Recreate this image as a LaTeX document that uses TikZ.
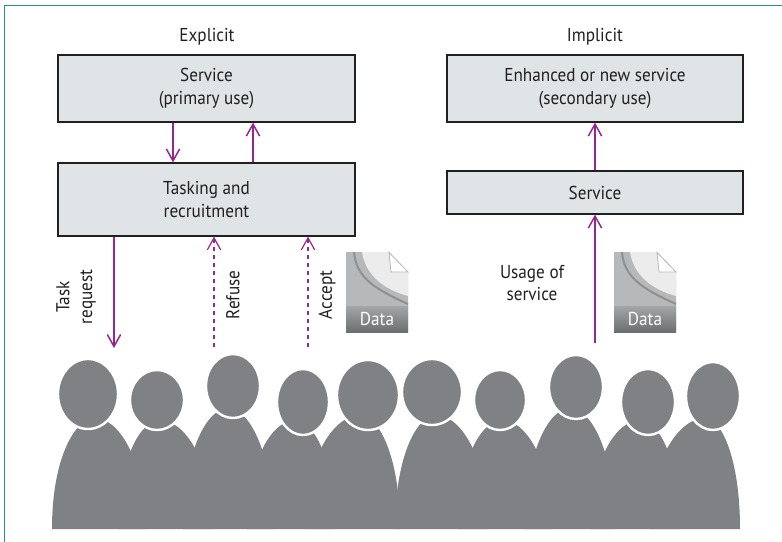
\documentclass[tikz,border=0pt]{standalone}
\usepackage{fontspec}
\setmainfont{PT Sans}[FakeStretch=0.92]
\usetikzlibrary{arrows.meta}

\definecolor{frameteal}{HTML}{2B8E8E}
\definecolor{boxfill}{HTML}{DFE4E6}
\definecolor{plum}{HTML}{93278F}
\definecolor{crowd}{HTML}{808184}
\definecolor{ink}{HTML}{231F20}
\definecolor{docmid}{HTML}{B7B8BA}
\definecolor{doclight}{HTML}{ECECEC}
\definecolor{docline}{HTML}{8F9092}

% one body of the crowd: centre x, left half width, right half width, top y
\newcommand\personbody[4]{%
  \fill[crowd] ({#1-#2},529)
    .. controls ({#1-#2},{#4+0.35*(529-#4)}) and ({#1-0.45*#2},#4) .. (#1,#4)
    .. controls ({#1+0.45*#3},#4) and ({#1+#3},{#4+0.35*(529-#4)}) .. ({#1+#3},529) -- cycle;}
% one head: centre x, centre y, x radius, y radius
\newcommand\personhead[4]{%
  \filldraw[crowd, draw=white, line width=1.8pt] (#1,#2) ellipse [x radius=#3, y radius=#4];}
% data sheet icon with its top left corner at (#1,#2)
\newcommand\datasheet[3]{%
  \begin{scope}[shift={(#1,#2)}]
    \fill[docmid] (0,0) -- (43,0) -- (62,20) -- (62,80) -- (0,80) -- cycle;
    \fill[doclight] (16,0) .. controls (20,25) and (40,38) .. (62,44) -- (62,20) -- (43,0) -- cycle;
    \draw[docline, line width=1.5pt] (8,0) .. controls (10,24) and (26,36) .. (62,52);
    \shade[top color=docmid!90!black, bottom color=crowd!85!black] (0,54) rectangle (62,80);
    \filldraw[fill=white, draw=docmid, line width=0.6pt] (43,0.5) -- (45,20) -- (62,20) -- cycle;
    \node[text=white, font=\fontsize{14}{15}\selectfont, inner sep=0] (#3) at (31,67) {Data};
  \end{scope}}

\tikzset{
  lbl/.style={text=ink, font=\fontsize{14}{17}\selectfont, align=center, inner sep=0},
  panel/.style={draw=ink, line width=0.9pt, fill=boxfill, text=ink,
    font=\fontsize{14}{17}\selectfont, align=center, inner sep=0,
    minimum width=#1},
  flow/.style={draw=plum, line width=1.1pt, -{Straight Barb[length=9pt,width=10pt]}},
  maybe/.style={flow, line width=0.9pt, dash pattern=on 3pt off 3pt},
  edge frame/.style={draw=frameteal, line width=1.2pt}
}

\begin{document}
\begin{tikzpicture}[x=0.75pt, y=-0.75pt]
  \useasboundingbox (0,0) rectangle (782,542);
  \draw[edge frame] (4.5,542) -- (4.5,5.5) -- (782,5.5);

  % column headings
  \node[lbl] (hexp) at (207,37) {Explicit};
  \node[lbl] (himp) at (595,37) {Implicit};

  % boxes
  \node[panel=222.75pt, minimum height=50.25pt] (b1) at (206.5,88.5) {Service\\(primary use)};
  \node[panel=222.75pt, minimum height=54.75pt] (b2) at (206.5,199.5) {Tasking and\\recruitment};
  \node[panel=222pt, minimum height=50.25pt] (b3) at (595,88.5) {Enhanced or new service\\(secondary use)};
  \node[panel=222pt, minimum height=32.25pt] (b4) at (595,192.5) {Service};

  % arrow columns and free ends
  \coordinate (cdown) at (173,0);
  \coordinate (cup) at (253,0);
  \coordinate (treq) at (114,348);
  \coordinate (tref) at (214,347);
  \coordinate (tacc) at (308,347);
  \coordinate (tuse) at (595,343);

  \draw[flow] (b1.south -| cdown) -- (b2.north -| cdown);
  \draw[flow] (b2.north -| cup) -- (b1.south -| cup);
  \draw[flow] (b2.south -| treq) -- (treq);
  \draw[maybe] (tref) -- (tref |- b2.south);
  \draw[maybe] (tacc) -- (tacc |- b2.south);
  \draw[flow] (b4.north) -- (b3.south);
  \draw[flow] (tuse) -- (b4.south);

  % arrow labels
  \node[lbl, rotate=90] (ltask) at (76,297) {Task\\request};
  \node[lbl, rotate=90] (lref) at (233,295) {Refuse};
  \node[lbl, rotate=90] (lacc) at (327,295) {Accept};
  \node[lbl] (luse) at (532,283) {Usage of\\service};

  % data sheets
  \datasheet{346}{252}{dataA}
  \datasheet{614}{252}{dataB}

  % the crowd: bodies first, heads on top
  \personbody{95}{43}{50}{418}
  \personbody{160}{42}{52}{420}
  \personbody{228}{45}{45}{408}
  \personbody{295}{48}{40}{420}
  \personbody{360}{55}{40}{415}
  \personbody{436}{41}{52}{415}
  \personbody{502}{44}{50}{420}
  \personbody{570}{45}{45}{408}
  \personbody{640}{50}{40}{420}
  \personbody{705}{55}{35}{418}

  \personhead{88}{394}{30}{35}
  \personhead{157}{400}{27}{30}
  \personhead{233}{386}{27}{32}
  \personhead{303}{402}{26}{33}
  \personhead{368}{395}{31}{35}
  \personhead{432}{392}{30}{33}
  \personhead{500}{400}{26}{30}
  \personhead{576}{387}{27}{32}
  \personhead{648}{402}{27}{33}
  \personhead{713}{396}{27}{34}
\end{tikzpicture}
\end{document}
